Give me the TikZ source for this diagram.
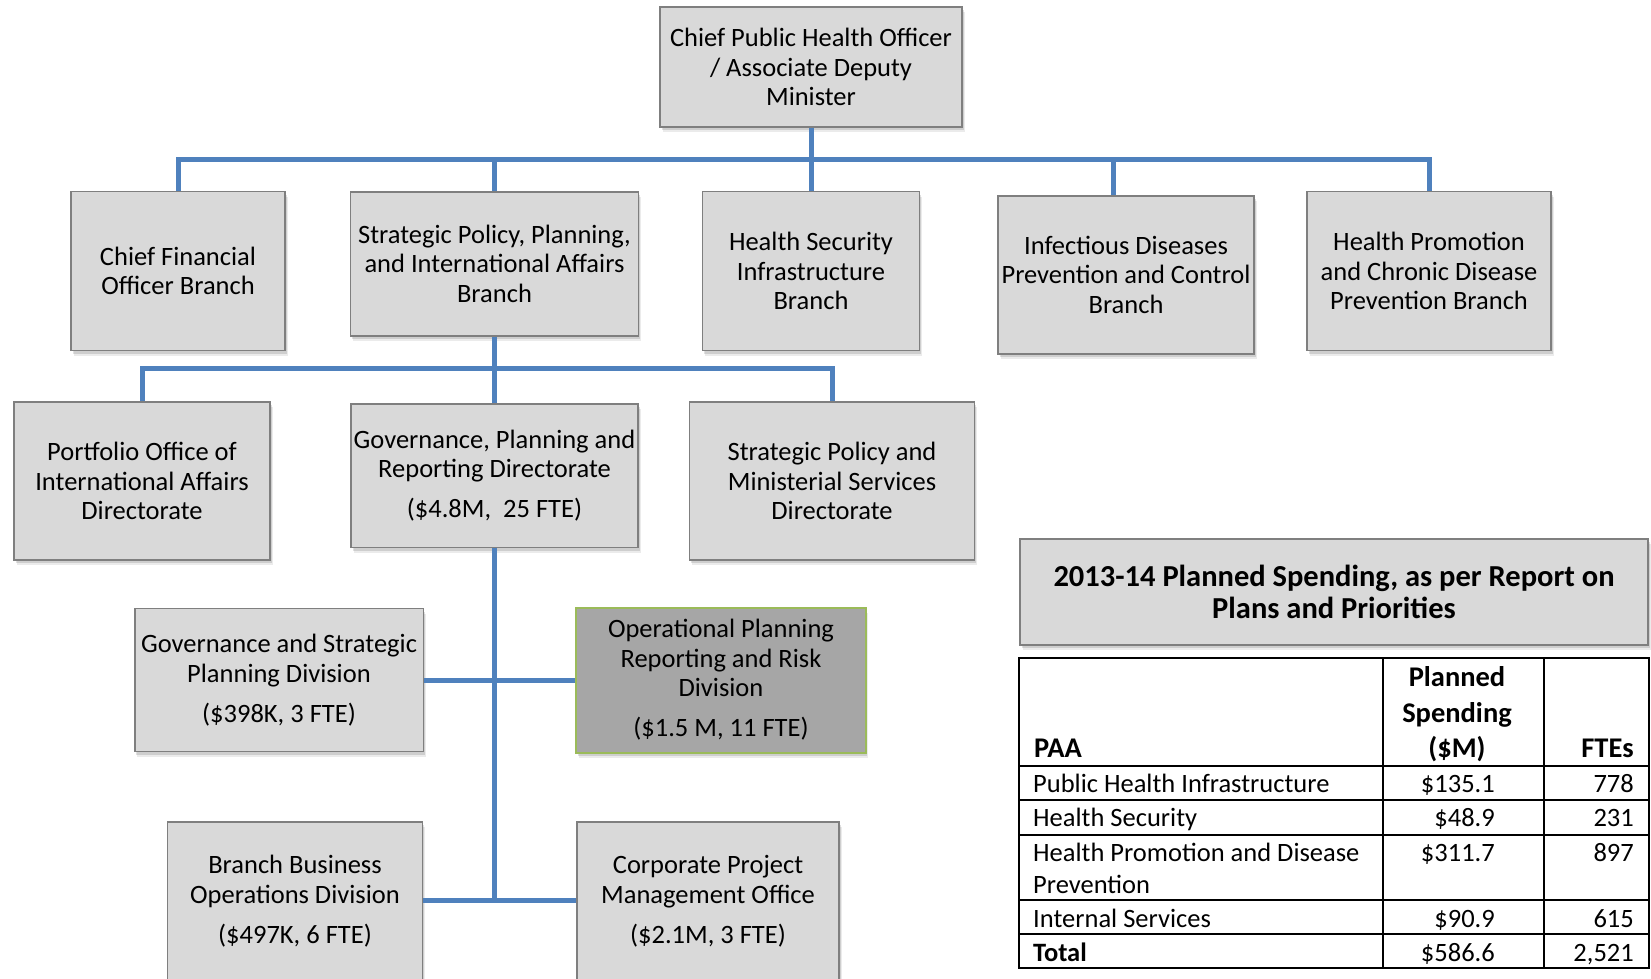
\documentclass[tikz,border=0pt]{standalone}
\usepackage{fontspec}
\setmainfont{Carlito}
\usetikzlibrary{shadows}
\definecolor{boxfill}{HTML}{D9D9D9}
\definecolor{boxline}{HTML}{7F7F7F}
\definecolor{darkfill}{HTML}{A6A6A6}
\definecolor{greenline}{HTML}{9BBB59}
\definecolor{connblue}{HTML}{4F81BD}
\newcommand\boxfont{\fontsize{26.5pt}{29.5pt}\selectfont}
\newcommand\ttlfont{\fontsize{30.5pt}{32.6pt}\selectfont\bfseries}
\newcommand\tabfont{\fontsize{26.5pt}{32.6pt}\selectfont}
\newcommand\thfont{\fontsize{28.5pt}{35.8pt}\selectfont\bfseries}
\begin{document}
\begin{tikzpicture}[x=1pt,y=-1pt,
  box/.style={draw=boxline, line width=1.5pt, fill=boxfill, align=center, inner sep=2pt, font=\boxfont,
    drop shadow={shadow xshift=2.5pt, shadow yshift=-5pt, opacity=0.08, fill=black},
    drop shadow={shadow xshift=1.5pt, shadow yshift=-3pt, opacity=0.12, fill=black}},
  darkbox/.style={box, fill=darkfill, draw=greenline, line width=2pt},
  conn/.style={draw=connblue, line width=5pt},
  tline/.style={draw=black, line width=2pt},
  cell/.style={font=\tabfont, inner sep=0pt},
  head/.style={font=\thfont, inner sep=0pt}]
\useasboundingbox (0,0) rectangle (1651,979);
\fill[white] (0,0) rectangle (1651,979);
\clip (0,0) rectangle (1651,979);

% top
\node[box, minimum width=302pt, minimum height=120pt] (cpho) at (811,67) {Chief Public Health Officer\\/ Associate Deputy\\Minister};

% level 2
\node[box, minimum width=214pt, minimum height=159pt] (cfo) at (178,271) {Chief Financial\\Officer Branch};
\node[box, minimum width=288pt, minimum height=144pt] (sppia) at (494.5,263.8) {Strategic Policy, Planning,\\and International Affairs\\Branch};
\node[box, minimum width=217pt, minimum height=159pt] (hsi) at (811,271) {Health Security\\Infrastructure\\Branch};
\node[box, minimum width=256pt, minimum height=158pt] (idpc) at (1126,274.8) {Infectious Diseases\\Prevention and Control\\Branch};
\node[box, minimum width=244pt, minimum height=159pt] (hpcd) at (1429,271) {Health Promotion\\and Chronic Disease\\Prevention Branch};

% level 3
\node[box, minimum width=256pt, minimum height=158pt] (poia) at (142,481) {Portfolio Office of\\International Affairs\\Directorate};
\node[box, minimum width=287pt, minimum height=143.5pt] (gprd) at (494.5,475.8) {Governance, Planning and\\Reporting Directorate\\[10.5pt](\$4.8M,\ \ 25 FTE)};
\node[box, minimum width=285pt, minimum height=158pt] (spmsd) at (832,481) {Strategic Policy and\\Ministerial Services\\Directorate};

% level 4
\node[box, minimum width=288.5pt, minimum height=143pt] (gspd) at (279,680) {Governance and Strategic\\Planning Division\\[10.5pt](\$398K, 3 FTE)};
\node[darkbox, minimum width=289.5pt, minimum height=145pt] (oprr) at (721,680) {Operational Planning\\Reporting and Risk\\Division\\[10.5pt](\$1.5 M, 11 FTE)};
\node[box, minimum width=255pt, minimum height=158pt] (bbod) at (295,901) {Branch Business\\Operations Division\\[10.5pt](\$497K, 6 FTE)};
\node[box, minimum width=262pt, minimum height=158pt] (cpmo) at (708,901) {Corporate Project\\Management Office\\[10.5pt](\$2.1M, 3 FTE)};

% connectors
\coordinate (b1) at (811,159);
\draw[conn] (cpho.south) -- (b1);
\draw[conn] (cfo.north) |- (b1) -| (hpcd.north);
\draw[conn] (sppia.north) -- (sppia.north |- b1);
\draw[conn] (hsi.north) -- (hsi.north |- b1);
\coordinate (idtop) at ([xshift=-13pt]idpc.north);
\draw[conn] (idtop) -- (idtop |- b1);

\coordinate (b2) at (494.5,368.5);
\draw[conn] (sppia.south) -- (gprd.north);
\draw[conn] (poia.north) |- (b2) -| (spmsd.north);

\coordinate (b3) at (494.5,900);
\draw[conn] (gprd.south) -- (b3);
\draw[conn] (gspd.east) -- (oprr.west);
\draw[conn] (bbod.east |- b3) -- (cpmo.west |- b3);

% title
\node[box, font=\ttlfont, minimum width=628pt, minimum height=106pt] (title) at (1334,592) {2013-14 Planned Spending, as per Report on\\Plans and Priorities};

% table grid
\draw[tline] (1019,658) rectangle (1649,967.6);
\foreach \yy in {765.5,800,835,900,934} \draw[tline] (1019,\yy) -- (1649,\yy);
\foreach \xx in {1382.5,1543.5} \draw[tline] (\xx,658) -- (\xx,967.6);

% header
\node[head, anchor=base west] (paa) at (1034,757) {PAA};
\node[head, anchor=base] (ps1) at (1457,686) {Planned};
\node[head, anchor=base] (ps2) at (1457,722) {Spending};
\node[head, anchor=base] (ps3) at (1457,757) {(\$M)};
\node[head, anchor=base east] (fte) at (1634,757) {FTEs};

% rows
\node[cell, anchor=base west] (r1a) at (1033,792) {Public Health Infrastructure};
\node[cell, anchor=base east] (r1b) at (1495,792) {\$135.1};
\node[cell, anchor=base east] (r1c) at (1634,792) {778};
\node[cell, anchor=base west] (r2a) at (1033,826) {Health Security};
\node[cell, anchor=base east] (r2b) at (1495,826) {\$48.9};
\node[cell, anchor=base east] (r2c) at (1634,826) {231};
\node[cell, anchor=base west] (r3a) at (1033,861) {Health Promotion and Disease};
\node[cell, anchor=base west] (r3a2) at (1033,893.5) {Prevention};
\node[cell, anchor=base east] (r3b) at (1495,861) {\$311.7};
\node[cell, anchor=base east] (r3c) at (1634,861) {897};
\node[cell, anchor=base west] (r4a) at (1033,927) {Internal Services};
\node[cell, anchor=base east] (r4b) at (1495,927) {\$90.9};
\node[cell, anchor=base east] (r4c) at (1634,927) {615};
\node[cell, anchor=base west, font=\tabfont\bfseries] (r5a) at (1033,961) {Total};
\node[cell, anchor=base east] (r5b) at (1495,961) {\$586.6};
\node[cell, anchor=base east] (r5c) at (1634,961) {2,521};
\end{tikzpicture}
\end{document}
